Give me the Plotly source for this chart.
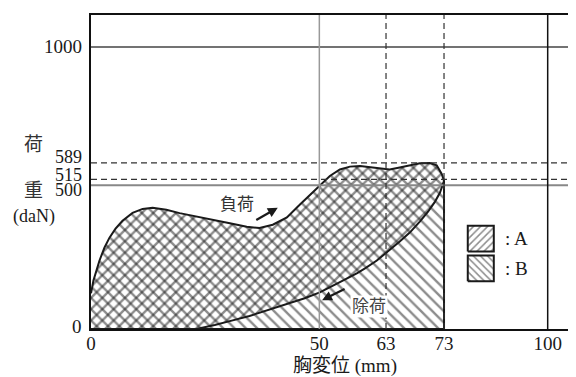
import plotly.graph_objects as go

# ---- data (schematic drawing units: x in mm-scale, y in daN-scale) ----
load_x = [0, 0.55, 1.21, 1.86, 2.96, 4.05, 5.37, 6.9, 9.1, 11.3, 13.5, 16.5, 19.4, 23.1,
          26.6, 30.4, 34.1, 36.9, 39.8, 42.9, 45.7, 47.9, 50.1, 52.3, 54.5, 56.7, 58.9,
          61.0, 63.2, 65.4, 67.6, 69.8, 72.0, 74.2, 75.7, 76.8, 77.3]
load_y = [127, 173, 208, 243, 289, 324, 356, 384, 412, 426, 430, 423, 411, 398,
          386, 375, 363, 358, 370, 396, 441, 476, 511, 543, 566, 576, 578,
          574, 568, 566, 573, 580, 588, 589, 581, 550, 525]
unload_x = [77.3, 76.4, 75.3, 73.8, 72.0, 69.8, 67.6, 65.4, 62.6, 60.0, 58.2, 54.5,
            50.1, 46.8, 43.5, 39.1, 34.7, 30.4, 27.1, 23.1]
unload_y = [525, 483, 451, 416, 381, 342, 310, 279, 243, 215, 197, 166,
            130, 109, 92, 67, 46, 28, 14, 0]

x_tick_pos = [0, 50, 64.6, 77.3, 100]
x_tick_text = ["0", "50", "63", "73", "100"]
y_label_pos = [0, 510, 531, 589, 1000]
y_label_text = ["0", "500", "515", "589", "1000"]
y_label_shift = [3, -5, 4, 6, 1]
y_label_size = [19, 18, 18, 18, 19]

X_MAX, Y_MAX = 106.2, 1113.8
FONT = "Liberation Serif, Noto Sans CJK JP"
INK = "#1a1a1a"

fig = go.Figure()

# B : whole area under loading curve ("\" hatch)
bx = load_x + [load_x[-1], 0]
by = load_y + [0, 0]
fig.add_trace(go.Scatter(x=bx, y=by, mode="lines", fill="toself",
                         fillcolor="rgba(0,0,0,0)",
                         fillpattern=dict(shape="\\", fgcolor=INK, bgcolor="rgba(0,0,0,0)",
                                          size=8, solidity=0.3),
                         line=dict(color=INK, width=2), showlegend=False, hoverinfo="skip"))
# A : hysteresis area between loading and unloading ("/" hatch)
ax_ = load_x + unload_x + [0]
ay_ = load_y + unload_y + [0]
fig.add_trace(go.Scatter(x=ax_, y=ay_, mode="lines", fill="toself",
                         fillcolor="rgba(0,0,0,0)",
                         fillpattern=dict(shape="/", fgcolor=INK, bgcolor="rgba(0,0,0,0)",
                                          size=8, solidity=0.3),
                         line=dict(color=INK, width=0), showlegend=False, hoverinfo="skip"))
# unloading curve line
fig.add_trace(go.Scatter(x=unload_x, y=unload_y, mode="lines",
                         line=dict(color=INK, width=2), showlegend=False, hoverinfo="skip"))

# legend boxes
box_x = [82.5, 88.2, 88.2, 82.5, 82.5]
for shape, (y0, y1) in [("/", (275, 366.6)), ("\\", (169.2, 260.8))]:
    fig.add_trace(go.Scatter(x=box_x, y=[y0, y0, y1, y1, y0], mode="lines", fill="toself",
                             fillcolor="rgba(0,0,0,0)",
                             fillpattern=dict(shape=shape, fgcolor=INK, bgcolor="rgba(0,0,0,0)",
                                              size=5, solidity=0.3),
                             line=dict(color=INK, width=2), showlegend=False, hoverinfo="skip"))

shapes = []
# horizontal guides
shapes.append(dict(type="line", xref="paper", x0=0, x1=1, yref="y", y0=1000, y1=1000,
                   line=dict(color="#444", width=1.5)))
shapes.append(dict(type="line", xref="paper", x0=0, x1=1, yref="y", y0=510, y1=510,
                   line=dict(color="#888", width=2)))
for yv in [531, 589]:
    shapes.append(dict(type="line", xref="paper", x0=0, x1=1, yref="y", y0=yv, y1=yv,
                       line=dict(color="#333", width=1.2, dash="6px,4px")))
# vertical guides
shapes.append(dict(type="line", yref="paper", y0=0, y1=1, xref="x", x0=50, x1=50,
                   line=dict(color="#999", width=1.5)))
for xv in [64.6, 77.3]:
    shapes.append(dict(type="line", yref="paper", y0=0, y1=1, xref="x", x0=xv, x1=xv,
                       line=dict(color="#333", width=1.2, dash="6px,4px")))
shapes.append(dict(type="line", yref="paper", y0=0, y1=1, xref="x", x0=100, x1=100,
                   line=dict(color="#111", width=1.5)))

ann = []
for t, p, s, fs in zip(y_label_text, y_label_pos, y_label_shift, y_label_size):
    ann.append(dict(text=t, x=0, y=p, xref="x", yref="y", xanchor="right", yanchor="middle",
                    xshift=-7, yshift=s, showarrow=False, font=dict(size=fs, color=INK, family=FONT)))
# y title
ann.append(dict(text="荷", x=0, y=655.6, xref="x", yref="y", xshift=-58, showarrow=False,
                font=dict(size=19, color="#333", family=FONT)))
ann.append(dict(text="重", x=0, y=490, xref="x", yref="y", xshift=-58, showarrow=False,
                font=dict(size=19, color="#333", family=FONT)))
ann.append(dict(text="(daN)", x=0, y=398, xref="x", yref="y", xshift=-57, showarrow=False,
                font=dict(size=18, color=INK, family=FONT)))
# x title
ann.append(dict(text="胸変位 (mm)", x=55.6, y=-0.117, xref="x", yref="paper",
                yanchor="middle", showarrow=False, font=dict(size=19, color=INK, family=FONT)))
# curve labels
ann.append(dict(text="負荷", x=32.0, y=440, xref="x", yref="y", showarrow=False,
                font=dict(size=17, color="#333", family=FONT)))
ann.append(dict(text="除荷", x=60.9, y=81, xref="x", yref="y", showarrow=False,
                bgcolor="white", font=dict(size=17, color="#444", family=FONT)))
ann.append(dict(text="", x=40.9, y=430, xref="x", yref="y", ax=-23, ay=13,
                showarrow=True, arrowhead=2, arrowsize=0.9, arrowwidth=2.2, arrowcolor=INK))
ann.append(dict(text="", x=50.6, y=102, xref="x", yref="y", ax=24, ay=-12,
                showarrow=True, arrowhead=2, arrowsize=0.9, arrowwidth=2.2, arrowcolor=INK))
# legend labels
ann.append(dict(text=": A", x=90.3, y=320, xref="x", yref="y", xanchor="left", showarrow=False,
                font=dict(size=19, color=INK, family=FONT)))
ann.append(dict(text=": B", x=90.3, y=215, xref="x", yref="y", xanchor="left", showarrow=False,
                font=dict(size=19, color=INK, family=FONT)))

fig.update_layout(
    width=576, height=377,
    margin=dict(l=83, r=8, t=5, b=56),
    paper_bgcolor="white", plot_bgcolor="white",
    shapes=shapes, annotations=ann,
    font=dict(family=FONT, size=19, color=INK),
    xaxis=dict(range=[0, X_MAX], showgrid=False, zeroline=False,
               showline=True, linecolor="#111", linewidth=2, mirror=True,
               tickmode="array", tickvals=x_tick_pos, ticktext=x_tick_text,
               ticks="", ticklabelstandoff=-4,
               tickfont=dict(size=19, family=FONT, color=INK)),
    yaxis=dict(range=[0, Y_MAX], showgrid=False, zeroline=False,
               showline=True, linecolor="#111", linewidth=2, mirror=False,
               showticklabels=False, ticks=""),
)

fig.write_html("out.html")
